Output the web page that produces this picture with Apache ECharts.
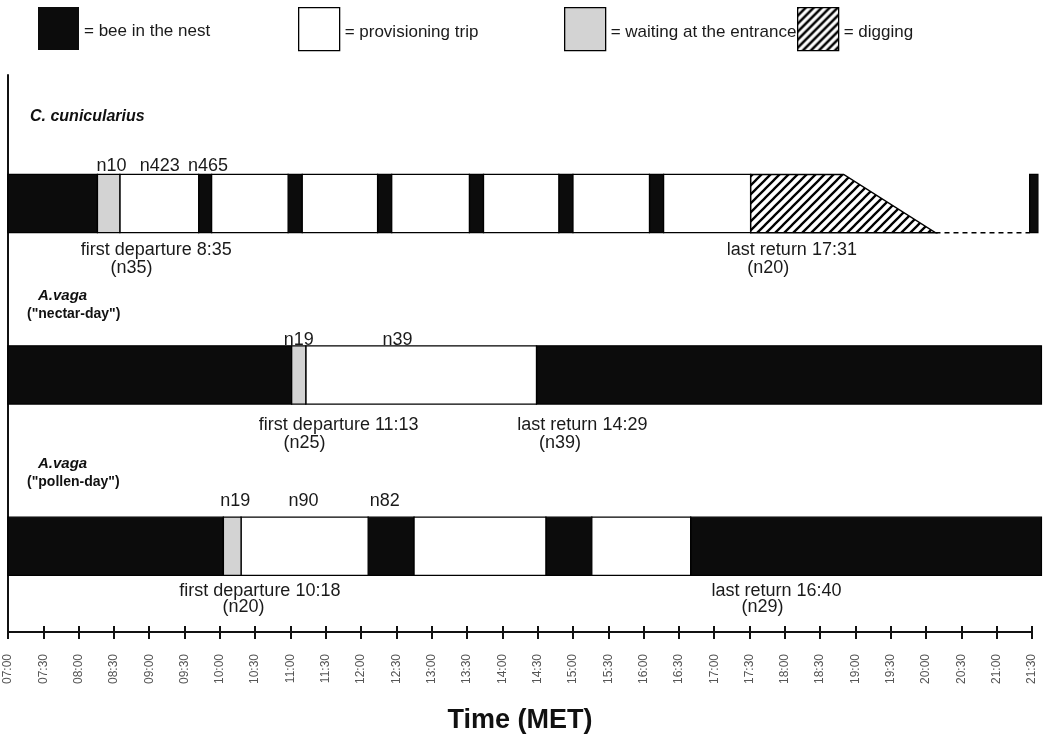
<!DOCTYPE html>
<html>
<head>
<meta charset="utf-8">
<title>Daily activity of C. cunicularius and A. vaga</title>
<script src="https://cdn.jsdelivr.net/npm/echarts@6/dist/echarts.min.js"></script>
<style>
  html, body { margin: 0; padding: 0; background: #fff; }
  #chart { width: 1055px; height: 737px; }
</style>
</head>
<body>
<div id="chart"></div>
<script>
// ---- data ---------------------------------------------------------------

// Observation rows, top to bottom (title, subtitle)
const rowTitles = [
  ['C. cunicularius', ''],
  ['A.vaga', '("nectar-day")'],
  ['A.vaga', '("pollen-day")']
];

// Behaviour states and their legend names
const stateKeys = ['nest', 'trip', 'waiting', 'digging'];
const stateNames = ['bee in the nest', 'provisioning trip', 'waiting at the entrance', 'digging'];

// Activity segments per row: [start, end, state]
const cuniculariusSegments = [
  ['07:00', '08:16', 'nest'],
  ['08:16', '08:35', 'waiting'],
  ['08:35', '09:42', 'trip'],
  ['09:42', '09:53', 'nest'],
  ['09:53', '10:58', 'trip'],
  ['10:58', '11:10', 'nest'],
  ['11:10', '12:14', 'trip'],
  ['12:14', '12:26', 'nest'],
  ['12:26', '13:32', 'trip'],
  ['13:32', '13:44', 'nest'],
  ['13:44', '14:48', 'trip'],
  ['14:48', '15:00', 'nest'],
  ['15:00', '16:05', 'trip'],
  ['16:05', '16:17', 'nest'],
  ['16:17', '17:31', 'trip'],
  ['21:28', '21:35', 'nest']
];
const nectarDaySegments = [
  ['07:00', '11:01', 'nest'],
  ['11:01', '11:13', 'waiting'],
  ['11:13', '14:29', 'trip'],
  ['14:29', '21:38', 'nest']
];
const pollenDaySegments = [
  ['07:00', '10:03', 'nest'],
  ['10:03', '10:18', 'waiting'],
  ['10:18', '12:06', 'trip'],
  ['12:06', '12:45', 'nest'],
  ['12:45', '14:37', 'trip'],
  ['14:37', '15:16', 'nest'],
  ['15:16', '16:40', 'trip'],
  ['16:40', '21:38', 'nest']
];

// C. cunicularius digging: start, end along the upper edge, end along the lower edge
const cuniculariusDigging = ['17:31', '18:50', '20:08'];
// C. cunicularius: no observation between these times (dashed)
const cuniculariusGap = ['20:08', '21:28'];

// Annotations per row: [time under the text centre, text, placement]
const cuniculariusNotes = [
  ['08:28', 'n10', 'above'],
  ['09:09', 'n423', 'above'],
  ['09:50', 'n465', 'above'],
  ['09:06', 'first departure 8:35', 'below'],
  ['08:45', '(n35)', 'below2'],
  ['18:06', 'last return 17:31', 'below'],
  ['17:46', '(n20)', 'below2']
];
const nectarDayNotes = [
  ['11:07', 'n19', 'above'],
  ['12:31', 'n39', 'above'],
  ['11:41', 'first departure 11:13', 'below'],
  ['11:12', '(n25)', 'below2'],
  ['15:08', 'last return 14:29', 'below'],
  ['14:49', '(n39)', 'below2']
];
const pollenDayNotes = [
  ['10:13', 'n19', 'above'],
  ['11:11', 'n90', 'above'],
  ['12:20', 'n82', 'above'],
  ['10:34', 'first departure 10:18', 'below'],
  ['10:20', '(n20)', 'below2'],
  ['17:53', 'last return 16:40', 'below'],
  ['17:41', '(n29)', 'below2']
];

// Time axis
const axisStart = '07:00';
const axisEnd = '21:30';
const tickStepMinutes = 30;

// ---- helpers --------------------------------------------------------------

const startHour = Number(axisStart.split(':')[0]);
function toMin(t) {
  const [h, m] = t.split(':').map(Number);
  return (h - startHour) * 60 + m;
}
function toClock(v) {
  const total = startHour * 60 + v;
  const h = Math.floor(total / 60), m = total % 60;
  return String(h).padStart(2, '0') + ':' + String(m).padStart(2, '0');
}

// ---- styling ---------------------------------------------------------------

const FONT = '"Liberation Sans", Arial, Helvetica, sans-serif';
const BAR_HEIGHT = 0.34;           // in row units
const stateFill = {
  nest: '#0c0c0c',
  trip: '#ffffff',
  waiting: '#d3d3d3'
};

// Diagonal hatching used for digging
function makeHatch(size, width) {
  const c = document.createElement('canvas');
  c.width = size; c.height = size;
  const ctx = c.getContext('2d');
  ctx.fillStyle = '#fff';
  ctx.fillRect(0, 0, size, size);
  ctx.strokeStyle = '#000';
  ctx.lineWidth = width;
  ctx.beginPath();
  ctx.moveTo(-1, size + 1); ctx.lineTo(size + 1, -1);
  ctx.moveTo(-size / 2 - 1, size / 2 + 1); ctx.lineTo(size / 2 + 1, -size / 2 - 1);
  ctx.moveTo(size / 2 - 1, size * 1.5 + 1); ctx.lineTo(size * 1.5 + 1, size / 2 - 1);
  ctx.stroke();
  return c;
}
const hatchPattern = { image: makeHatch(9, 2.3), repeat: 'repeat' };
const hatchPatternLegend = { image: makeHatch(8, 2.5), repeat: 'repeat' };

// Label placement relative to each row centre (px)
const noteOffsets = [
  { above: -38, below: 46, below2: 64 },
  { above: -35, below: 50, below2: 68 },
  { above: -45, below: 45, below2: 61 }
];

// ---- build series data -----------------------------------------------------

const rowSegments = [cuniculariusSegments, nectarDaySegments, pollenDaySegments];
const rowNotes = [cuniculariusNotes, nectarDayNotes, pollenDayNotes];

function segmentsOf(state) {
  const out = [];
  rowSegments.forEach((segs, r) => {
    segs.forEach(s => {
      if (s[2] === state) out.push([toMin(s[0]), toMin(s[1]), r + 1]);
    });
  });
  return out;
}

function renderSegment(params, api) {
  const row = api.value(2);
  const p0 = api.coord([api.value(0), row]);
  const p1 = api.coord([api.value(1), row]);
  const h = api.size([0, BAR_HEIGHT])[1];
  return {
    type: 'rect',
    shape: { x: p0[0], y: p0[1] - h / 2, width: p1[0] - p0[0], height: h },
    style: {
      fill: api.visual('color'),
      stroke: '#000',
      lineWidth: 1.3
    }
  };
}

const noteData = [];
const noteMeta = [];
rowNotes.forEach((notes, r) => {
  notes.forEach(n => {
    noteData.push([toMin(n[0]), r + 1]);
    noteMeta.push({ text: n[1], dy: noteOffsets[r][n[2]] });
  });
});

// ---- chart -----------------------------------------------------------------

const chart = echarts.init(document.getElementById('chart'), null, { renderer: 'canvas' });

const legendLefts = [38, 298, 564, 797];
const legendItemStyles = [
  { color: stateFill.nest, borderColor: stateFill.nest, borderWidth: 0 },
  { color: '#fff', borderColor: '#000', borderWidth: 1.3 },
  { color: stateFill.waiting, borderColor: '#000', borderWidth: 1.3 },
  { color: hatchPatternLegend, borderColor: '#000', borderWidth: 1.3 }
];

const option = {
  animation: false,
  backgroundColor: '#fff',
  legend: stateNames.map((name, i) => ({
    left: legendLefts[i],
    top: 7,
    padding: 0,
    orient: 'horizontal',
    icon: 'rect',
    itemWidth: 41,
    itemHeight: 43,
    selectedMode: false,
    formatter: '{t|= {name}}',
    textStyle: {
      fontFamily: FONT, fontSize: 17, color: '#1a1a1a',
      rich: { t: { fontFamily: FONT, fontSize: 17, color: '#1a1a1a', padding: [6, 0, 0, 0] } }
    },
    data: [{ name: name, itemStyle: legendItemStyles[i] }]
  })),
  grid: {
    left: 8,
    right: 23,
    top: 75,
    bottom: 105,
    containLabel: false,
    outerBoundsMode: 'none'
  },
  xAxis: [
    {
      type: 'value',
      min: toMin(axisStart),
      max: toMin(axisEnd),
      interval: tickStepMinutes,
      position: 'bottom',
      axisLine: { show: true, lineStyle: { color: '#111', width: 2 } },
      axisTick: { show: true, inside: false, length: 7, lineStyle: { color: '#111', width: 2 } },
      axisLabel: {
        show: true,
        rotate: 90,
        margin: 22,
        fontFamily: FONT,
        fontSize: 12,
        color: '#555',
        formatter: v => toClock(v)
      },
      splitLine: { show: false },
      name: 'Time (MET)',
      nameLocation: 'middle',
      nameGap: 75,
      nameTextStyle: { fontFamily: FONT, fontSize: 27, fontWeight: 'bold', color: '#111' }
    },
    {
      type: 'value',
      min: toMin(axisStart),
      max: toMin(axisEnd),
      interval: tickStepMinutes,
      position: 'bottom',
      axisLine: { show: false },
      axisTick: { show: true, inside: true, length: 6, lineStyle: { color: '#111', width: 2 } },
      axisLabel: { show: false },
      splitLine: { show: false }
    }
  ],
  yAxis: {
    type: 'value',
    inverse: true,
    min: 0.25,
    max: 3.5,
    axisLine: { show: true, onZero: false, lineStyle: { color: '#111', width: 2 } },
    axisTick: { show: false },
    axisLabel: { show: false },
    splitLine: { show: false }
  },
  graphic: [],
  series: [
    {
      name: stateNames[0],
      type: 'custom',
      renderItem: renderSegment,
      itemStyle: { color: stateFill.nest },
      encode: { x: [0, 1], y: 2 },
      data: segmentsOf('nest'),
      clip: false,
      silent: true
    },
    {
      name: stateNames[1],
      type: 'custom',
      renderItem: renderSegment,
      itemStyle: { color: stateFill.trip, borderColor: '#000', borderWidth: 1.3 },
      encode: { x: [0, 1], y: 2 },
      data: segmentsOf('trip'),
      clip: false,
      silent: true
    },
    {
      name: stateNames[2],
      type: 'custom',
      renderItem: renderSegment,
      itemStyle: { color: stateFill.waiting, borderColor: '#000', borderWidth: 1.3 },
      encode: { x: [0, 1], y: 2 },
      data: segmentsOf('waiting'),
      clip: false,
      silent: true
    },
    {
      name: stateNames[3],
      type: 'custom',
      itemStyle: { color: hatchPattern, borderColor: '#000', borderWidth: 1.3 },
      encode: { x: [0, 1, 2], y: 3 },
      data: [[toMin(cuniculariusDigging[0]), toMin(cuniculariusDigging[1]), toMin(cuniculariusDigging[2]), 1]],
      clip: false,
      silent: true,
      renderItem: function (params, api) {
        const row = api.value(3);
        const h = api.size([0, BAR_HEIGHT])[1];
        const a = api.coord([api.value(0), row]);
        const b = api.coord([api.value(1), row]);
        const c = api.coord([api.value(2), row]);
        const top = a[1] - h / 2, bottom = a[1] + h / 2;
        return {
          type: 'polygon',
          shape: { points: [[a[0], top], [b[0], top], [c[0], bottom], [a[0], bottom]] },
          style: { fill: hatchPattern, stroke: '#000', lineWidth: 1.5 }
        };
      }
    },
    {
      name: 'unobserved',
      type: 'custom',
      encode: { x: [0, 1], y: 2 },
      data: [[toMin(cuniculariusGap[0]), toMin(cuniculariusGap[1]), 1]],
      clip: false,
      silent: true,
      renderItem: function (params, api) {
        const row = api.value(2);
        const h = api.size([0, BAR_HEIGHT])[1];
        const a = api.coord([api.value(0), row]);
        const b = api.coord([api.value(1), row]);
        const y = a[1] + h / 2;
        return {
          type: 'line',
          shape: { x1: a[0], y1: y, x2: b[0], y2: y },
          style: { stroke: '#000', lineWidth: 1.5, lineDash: [5, 4] }
        };
      }
    },
    {
      name: 'notes',
      type: 'custom',
      encode: { x: 0, y: 1 },
      data: noteData,
      clip: false,
      silent: true,
      renderItem: function (params, api) {
        const meta = noteMeta[params.dataIndex];
        const p = api.coord([api.value(0), api.value(1)]);
        return {
          type: 'text',
          x: p[0],
          y: p[1] + meta.dy,
          style: {
            text: meta.text,
            fill: '#1a1a1a',
            font: '18px ' + FONT,
            align: 'center',
            verticalAlign: 'middle'
          }
        };
      }
    }
  ]
};

// Row titles at the left edge
const titleLayout = [
  { x: 30, y: 118, sx: 38, sy: 0 },
  { x: 38, y: 297, sx: 27, sy: 316 },
  { x: 38, y: 465, sx: 27, sy: 484 }
];
rowTitles.forEach((t, i) => {
  const L = titleLayout[i];
  option.graphic.push({
    type: 'text', left: L.x, top: L.y - 9,
    style: { text: t[0], font: 'italic bold ' + (i === 0 ? 16 : 15) + 'px ' + FONT, fill: '#111' }
  });
  if (t[1]) {
    option.graphic.push({
      type: 'text', left: L.sx, top: L.sy - 9,
      style: { text: t[1], font: 'bold 14px ' + FONT, fill: '#111' }
    });
  }
});

chart.setOption(option);
</script>
</body>
</html>
